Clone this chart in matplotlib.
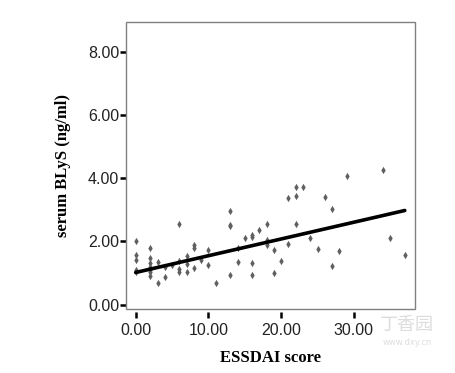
import matplotlib
matplotlib.use('Agg')
import matplotlib.pyplot as plt
from matplotlib.patches import Rectangle

# ESSDAI score vs serum BLyS
essdai = [0, 0, 0, 0, 0,
          2, 2, 2, 2, 2, 2, 2,
          3, 3, 4, 4, 5,
          6, 6, 6, 6, 7, 7, 7,
          8, 8, 8, 9, 10, 10, 11,
          13, 13, 13, 13, 14, 14, 15,
          16, 16, 16, 16, 17, 18, 18, 18,
          19, 19, 20, 21, 21, 22, 22, 22, 23,
          24, 25, 26, 27, 27, 28, 29, 34, 35, 37]
blys = [2.02, 1.57, 1.42, 1.10, 1.02,
        1.79, 1.47, 1.32, 1.19, 1.10, 1.02, 0.92,
        1.36, 0.68, 1.19, 0.89, 1.25,
        2.56, 1.39, 1.13, 1.04, 1.55, 1.28, 1.04,
        1.88, 1.78, 1.17, 1.42, 1.74, 1.25, 0.68,
        2.96, 2.53, 2.49, 0.93, 1.80, 1.35, 2.11,
        2.21, 2.14, 1.32, 0.93, 2.37, 2.56, 2.05, 1.88,
        1.74, 1.00, 1.39, 3.39, 1.92, 3.73, 3.44, 2.56, 3.73,
        2.11, 1.77, 3.42, 3.03, 1.22, 1.71, 4.07, 4.26, 2.11, 1.57]

# fitted line end points
fit_x = [0, 37]
fit_y = [1.02, 2.98]

yticks = [0, 2, 4, 6, 8]
xticks = [0, 10, 20, 30]

fig = plt.figure(figsize=(4.55, 3.73), dpi=100)
ax = fig.add_axes([0.277, 0.172, 0.635, 0.769])

ax.scatter(essdai, blys, marker='d', s=14, color='#606060', linewidths=0, zorder=3)
ax.plot(fit_x, fit_y, color='black', linewidth=2.6, solid_capstyle='round', zorder=4)

ax.set_xlim(-1.33, 38.4)
ax.set_ylim(-0.13, 8.94)
ax.set_xticks(xticks)
ax.set_yticks(yticks)
ax.set_xticklabels(['%.2f' % v for v in xticks])
ax.set_yticklabels(['%.2f' % v for v in yticks])

# frame drawn separately so that x ticks can sit a little below it
for s in ax.spines.values():
    s.set_visible(False)
ax.spines['bottom'].set_position(('outward', 2))
ax.add_patch(Rectangle((0, 0), 1, 1, transform=ax.transAxes, fill=False,
                       edgecolor='#808080', linewidth=1.0, zorder=5, clip_on=False))

ax.tick_params(axis='both', direction='out', length=4, width=1.8, color='black',
               labelsize=11.5, labelcolor='#222222')
ax.tick_params(axis='y', pad=1)
ax.tick_params(axis='x', pad=4)
for lab in ax.get_xticklabels() + ax.get_yticklabels():
    lab.set_family(['Liberation Sans', 'DejaVu Sans'])

ax.set_xlabel('ESSDAI score', fontsize=12, fontweight='bold',
              family='Liberation Serif', labelpad=9)
ax.set_ylabel('serum BLyS (ng/ml)', fontsize=12, fontweight='bold',
              family='Liberation Serif', labelpad=12)

# faint site watermark
fig.text(0.835, 0.115, '丁香园', fontsize=13, color='#dddddd',
         family=['Noto Sans CJK SC', 'DejaVu Sans'])
fig.text(0.84, 0.075, 'www.dxy.cn', fontsize=6, color='#dddddd')

plt.savefig('out.png', dpi=100)
